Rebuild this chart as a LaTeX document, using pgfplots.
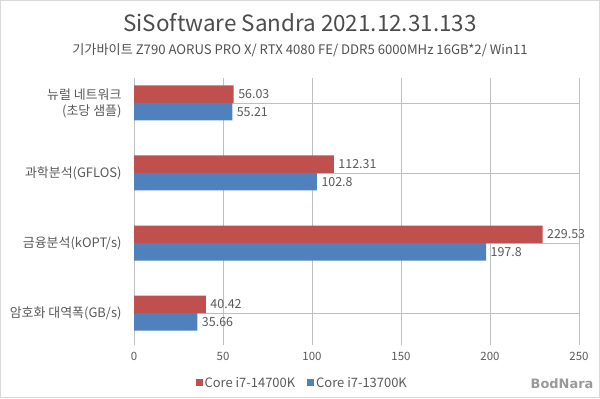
\documentclass[border=0pt]{standalone}
\usepackage{pgfplots}
\pgfplotsset{compat=1.18}
\usepackage{fontspec}
\setmainfont{Noto Sans CJK KR}
\newfontfamily\logofont{DejaVu Sans}
\definecolor{cred}{HTML}{C0504D}
\definecolor{cblue}{HTML}{4F81BD}
\definecolor{txt}{HTML}{595959}
\definecolor{grid}{HTML}{D9D9D9}
\begin{document}
\begin{tikzpicture}[x=1bp,y=1bp]
\draw[grid, line width=0.8bp] (0.4,0.4) rectangle (599.6,397.6);
\node[text=txt!85!black, font=\fontsize{22.5}{26}\selectfont] at (300,375) {SiSoftware Sandra 2021.12.31.133};
\node[text=txt!90!black, font=\fontsize{13.2}{15}\selectfont] at (300,348) {기가바이트 Z790 AORUS PRO X/ RTX 4080 FE/ DDR5 6000MHz 16GB*2/ Win11};
\begin{axis}[
  at={(134bp,53bp)}, anchor=south west,
  scale only axis, width=445bp, height=267bp,
  xmin=0, xmax=250, ymin=-0.457, ymax=3.357,
  xtick={0,50,100,150,200,250},
  ytick={0,1,2,3},
  yticklabels={},
  xmajorgrids, major grid style={grid, line width=0.8bp},
  axis line style={draw=none},
  major tick length=0pt,
  tick label style={text=txt, font=\fontsize{11.5}{13}\selectfont},
  /pgf/number format/assume math mode=true,
  xticklabel style={yshift=-4bp},
  xbar, bar width=17.5bp,
  nodes near coords,
  every node near coord/.append style={anchor=west, text=txt, font=\fontsize{12.5}{14}\selectfont, xshift=1bp},
  point meta=explicit symbolic,
  legend style={draw=none, at={(0.378,-0.142)}, anchor=center, legend columns=2, font=\fontsize{13}{15}\selectfont, text=txt, /tikz/every even column/.append style={column sep=10bp}},
  legend image code/.code={\fill[#1] (0bp,-3.5bp) rectangle (7bp,3.5bp);},
  clip=false,
]
\addplot[fill=cred, draw=none, bar shift=8.75bp] coordinates {(56.03,3)[56.03] (112.31,2)[112.31] (229.53,1)[229.53] (40.42,0)[40.42]};
\addplot[fill=cblue, draw=none, bar shift=-8.75bp] coordinates {(55.21,3)[55.21] (102.8,2)[102.8] (197.8,1)[197.8] (35.66,0)[35.66]};
\legend{Core i7-14700K, Core i7-13700K}
\end{axis}
\begin{scope}[every node/.style={text=txt, font=\fontsize{13}{16}\selectfont, anchor=east, align=right}]
\node at (125,295) {뉴럴 네트워크\\(초당 샘플)};
\node at (125,225) {과학분석(GFLOS)};
\node at (125,155) {금융분석(kOPT/s)};
\node at (125,85) {암호화 대역폭(GB/s)};
\end{scope}
\node[text=black!40, font=\logofont\bfseries\fontsize{13}{14}\selectfont] at (562,14) {BodNara};
\end{tikzpicture}
\end{document}
